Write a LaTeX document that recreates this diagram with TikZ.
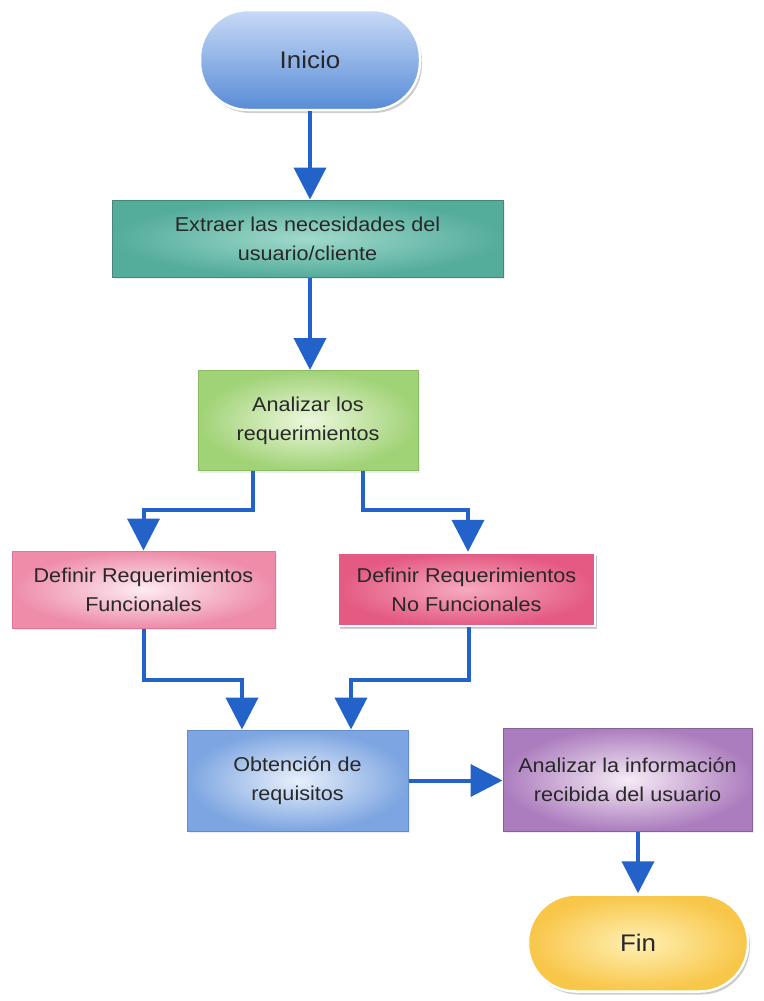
\documentclass[tikz,border=0pt]{standalone}
\usepackage{fontspec}
\setmainfont{Liberation Sans}[FakeStretch=1.08]
\usetikzlibrary{arrows.meta,shadows}

% fills
\definecolor{iniTop}{RGB}{200,218,246}
\definecolor{iniBot}{RGB}{88,140,215}
\definecolor{extIn}{RGB}{160,218,205}
\definecolor{extOut}{RGB}{84,172,155}
\definecolor{extLine}{RGB}{70,135,122}
\definecolor{anaIn}{RGB}{236,248,220}
\definecolor{anaOut}{RGB}{160,210,118}
\definecolor{anaLine}{RGB}{140,185,100}
\definecolor{funIn}{RGB}{253,236,242}
\definecolor{funOut}{RGB}{238,140,170}
\definecolor{funLine}{RGB}{225,120,152}
\definecolor{nofIn}{RGB}{246,170,192}
\definecolor{nofOut}{RGB}{228,90,130}
\definecolor{obtIn}{RGB}{232,240,251}
\definecolor{obtOut}{RGB}{125,165,225}
\definecolor{obtLine}{RGB}{100,140,200}
\definecolor{infIn}{RGB}{246,236,246}
\definecolor{infOut}{RGB}{172,125,190}
\definecolor{infLine}{RGB}{130,100,150}
\definecolor{finIn}{RGB}{255,240,180}
\definecolor{finOut}{RGB}{248,198,72}
\definecolor{flow}{RGB}{35,98,200}
\definecolor{txt}{RGB}{40,40,40}

\tikzset{
  box/.style={rectangle, inner sep=0pt, align=center, text=txt,
    font=\fontsize{20}{29}\selectfont, line width=1pt,
    drop shadow={opacity=0.15, shadow xshift=1.5pt, shadow yshift=-2pt}},
  pill/.style={box, rounded corners=48pt, draw=white, line width=2.5pt,
    font=\fontsize{24}{29}\selectfont,
    drop shadow={opacity=0.35, shadow xshift=2pt, shadow yshift=-3pt}},
  conn/.style={draw=flow, line width=4pt,
    -{Triangle[width=32pt,length=32pt]}}
}

\begin{document}
\begin{tikzpicture}[x=1pt,y=-1pt]
\useasboundingbox[fill=white] (0,0) rectangle (763,1001);

% start and end terminals
\node[pill, minimum width=220pt, minimum height=100pt,
      top color=iniTop, bottom color=iniBot] (ini) at (310,60) {Inicio};
\node[pill, minimum width=220pt, minimum height=97pt,
      inner color=finIn, outer color=finOut] (fin) at (638,943) {Fin};

% process steps
\node[box, draw=extLine, minimum width=391pt, minimum height=77pt,
      inner color=extIn, outer color=extOut] (ext) at (307.5,238.5)
      {Extraer las necesidades del\\usuario/cliente};
\node[box, draw=anaLine, minimum width=220pt, minimum height=100pt,
      inner color=anaIn, outer color=anaOut] (ana) at (308,420.5)
      {Analizar los\\requerimientos};
\node[box, draw=funLine, minimum width=263pt, minimum height=77pt,
      inner color=funIn, outer color=funOut] (fun) at (143.5,589.5)
      {Definir Requerimientos\\Funcionales};
\node[box, draw=white, line width=2.5pt, minimum width=257pt, minimum height=73pt,
      inner color=nofIn, outer color=nofOut,
      drop shadow={opacity=0.35, shadow xshift=2pt, shadow yshift=-3pt}] (nof) at (466.5,589.5)
      {Definir Requerimientos\\No Funcionales};
\node[box, draw=obtLine, minimum width=221pt, minimum height=101pt,
      inner color=obtIn, outer color=obtOut] (obt) at (297.5,780.5)
      {Obtención de\\requisitos};
\node[box, draw=infLine, minimum width=249pt, minimum height=103pt,
      inner color=infIn, outer color=infOut] (inf) at (627.5,779.5)
      {Analizar la información\\recibida del usuario};

% flow
\draw[conn] (ini.south) -- (ini.south |- ext.north);
\draw[conn] (310,0 |- ext.south) -- (310,0 |- ana.north);
\draw[conn] (253,0 |- ana.south) |- (fun.north |- 0,510) -- (fun.north);
\draw[conn] (363,0 |- ana.south) |- (468,510) -- (468,0 |- nof.north);
\draw[conn] (fun.south) |- (242,680) -- (242,0 |- obt.north);
\draw[conn] (469,0 |- nof.south) |- (351,680) -- (351,0 |- obt.north);
\draw[conn] (obt.east) -- (obt.east -| inf.west);
\draw[conn] (fin.north |- inf.south) -- (fin.north);
\end{tikzpicture}
\end{document}
